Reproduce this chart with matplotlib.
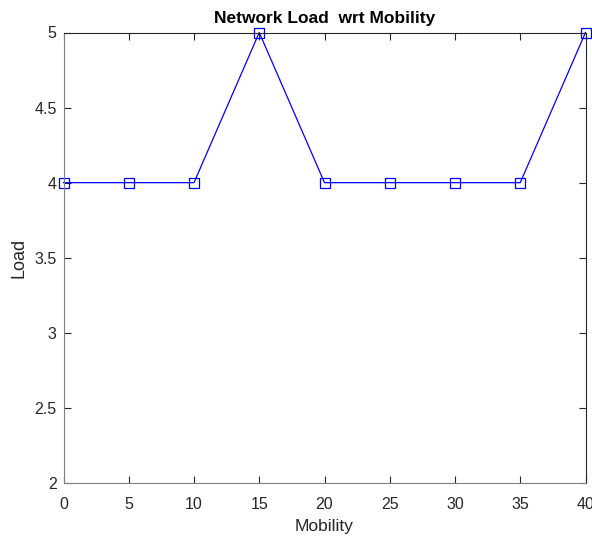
import matplotlib
matplotlib.use("Agg")
import matplotlib.pyplot as plt

mobility = [0, 5, 10, 15, 20, 25, 30, 35, 40]
load = [4, 4, 4, 5, 4, 4, 4, 4, 5]
xticks = [0, 5, 10, 15, 20, 25, 30, 35, 40]
yticks = [2, 2.5, 3, 3.5, 4, 4.5, 5]

plt.rcParams['font.family'] = ['Liberation Sans', 'DejaVu Sans']

fig = plt.figure(figsize=(5.92, 5.39), dpi=100)
ax = fig.add_axes([63.5/592, 1-483/539, (585.5-63.5)/592, (483-32.5)/539])

ax.plot(mobility, load, color='#0000ff', linewidth=0.9, marker='s', markersize=6.5,
        markerfacecolor='none', markeredgecolor='#0000ff', markeredgewidth=0.9, clip_on=False)

ax.set_xlim(0, 40)
ax.set_ylim(2, 5)
ax.set_xticks(xticks)
ax.set_xticklabels([f"{v:g}" for v in xticks])
ax.set_yticks(yticks)
ax.set_yticklabels([f"{v:g}" for v in yticks])
ax.tick_params(direction='in', length=5, width=0.8, labelsize=11.5, colors='#262626',
               top=True, right=True)
ax.tick_params(axis='x', pad=10)
ax.tick_params(axis='y', pad=5)
for s in ['left', 'bottom']:
    ax.spines[s].set_color('#808080')
for s in ['top', 'right']:
    ax.spines[s].set_color('#262626')
for s in ax.spines.values():
    s.set_linewidth(0.8)

ax.set_xlabel('Mobility', fontsize=12.5, color='#262626', labelpad=5)
ax.set_ylabel('Load', fontsize=13, color='#262626', labelpad=5)
ax.set_title('Network Load  wrt Mobility', fontsize=12.5, fontweight='bold', color='black', pad=7)

fig.savefig('out.png', dpi=100)
